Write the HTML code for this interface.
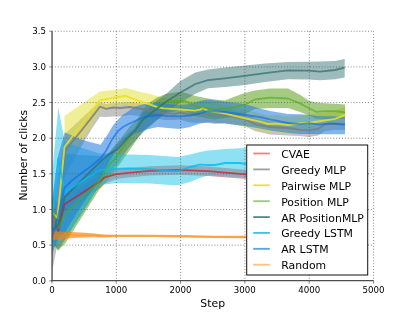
<!DOCTYPE html>
<html><head><meta charset="utf-8"><title>Number of clicks vs Step</title>
<style>html,body{margin:0;padding:0;background:#fff}svg{display:block;will-change:transform}text{font-family:"DejaVu Sans","Liberation Sans",sans-serif;fill:#000}</style></head><body>
<svg width="415" height="312" viewBox="0 0 415 312">
<rect width="415" height="312" fill="#fff"/>
<defs><clipPath id="ax"><rect x="51.875" y="31.2" width="321.625" height="249.60000000000002"/></clipPath></defs>
<g clip-path="url(#ax)">
<polygon points="52,201 58.1,222 64.5,196 100,175 104,172 115.4,169.3 128,168 150,166.2 180,165.3 208,166.6 246,169.7 246,179 208,175.9 180,174.7 150,175.5 128,177.6 115.4,179.2 104,184 100,188 64.5,212 58.1,239 52,217" fill="#e41a1c" fill-opacity="0.45"/>
<polygon points="52,215 58.3,175 65.3,133.5 80.4,119.4 91,109.5 99.9,102.5 106,104 113,103 120,103 130,102 140,103 150,105 165,107 175,108 180,107 190,108 208,108 215,109 225,108.5 244.8,113 255,118 270,121 288,122 300,124 309,124 318,123 325,119 335,118 345,118 345,130 335,130 325,131 318,135.5 309,137 300,136 288,135.5 270,134.5 255,131 244.8,126.2 225,123.2 215,124 208,123 190,122.5 180,119.5 175,120 165,120 150,117 140,116 130,115 120,116.5 113,116.5 106,117 99.9,116.7 91,130 80.4,148.3 65.3,175 58.3,240 52,272" fill="#888888" fill-opacity="0.5"/>
<polygon points="64.5,116 91,97.5 96.2,94 99.8,91.5 106,90.7 113,90 120,89 125.6,88 132,89.5 138.6,91.5 150,94 157,96 163.6,98 180,100.5 195,101.5 200,101 203,100 208,102 225,105 244.8,110 260,113 268,115.5 275,115 288,116.5 300,115 309,114 320,113 335,110.5 345,107 345,123 335,127 320,129.5 309,131 300,132 288,133.5 275,132 268,132.5 260,130 244.8,127 225,122 208,119.3 203,117.5 200,118.5 195,119 180,118 163.6,116.5 157,115 150,112.5 138.6,109 132,106.5 125.6,104.3 120,105.5 113,107 106,108.5 99.8,110 96.2,116.5 91,127 64.5,166" fill="#e2e030" fill-opacity="0.5"/>
<polygon points="52,195 58.1,205 65.2,195 99,166 106,156 109,152.5 115.2,145 121,138 124.9,133 128.9,127.5 136,120.5 143,110 146,105 157,97.6 166.5,93.7 180,91.8 185.8,93 195.4,96 208,98.5 215,99.5 225,100.5 235,96.5 244.8,93 255,90.5 270,88.5 288,88.5 300,94.7 309,100.8 316,102.5 325,103.3 335,103.8 345,104.5 345,118.5 335,119 325,119 316,118.5 309,115.4 300,112 288,108 270,108 255,109 244.8,114 235,117 225,118 215,119.5 208,118.5 195.4,116 185.8,111 180,110 166.5,113 157,120 146,128.5 143,131.3 136,141 128.9,151.2 124.9,157 121,162.5 115.2,170.5 109,178.5 106,182.5 99,190 65.2,243.5 58.1,250.8 52,243" fill="#5aa01a" fill-opacity="0.55"/>
<polygon points="52,215 58.3,200 64.7,154 100,156 105.6,154.5 110.5,152 118.2,143.5 122,139.5 127.8,133.8 134.8,128 142.6,113 157,100.5 166.5,93.5 180,81.2 195.4,72.5 208,69.6 225,67.5 244.8,65.4 265,63.5 288,62 309,61.8 320,61.5 335,61 344.7,58.9 344.7,77.5 335,79.3 320,80.3 309,79.5 288,79.3 265,82 244.8,85 225,87 208,88.2 195.4,93.7 180,103 166.5,112 157,120 142.6,133 134.8,141 127.8,149 122,157 118.2,163 110.5,172 105.6,178 100,185 64.7,240 58.3,249.5 52,242" fill="#3c7878" fill-opacity="0.5"/>
<polygon points="52,175 58.3,107.7 64.9,142.5 100,153.5 115.4,153.5 128,154.5 150,155 170,156.5 178,157 190,154.5 200,152 208,150.6 215,150 225,149 240,148.2 246,148 246,177.6 240,177.3 225,176.5 215,176 208,175.6 200,178 190,182 178,185.3 170,185 150,183.5 128,183 115.4,183.3 100,185 64.9,239.5 58.3,241 52,250" fill="#1ec3e6" fill-opacity="0.5"/>
<polygon points="52,200 54.3,184 58.3,155 64.7,132.5 72.5,135.7 81.7,139.8 90,142.1 100.5,144.8 105.9,137 108.5,133 110.2,130 113.3,125 118.2,119.5 123,114.5 128,111.5 134,107 140,105 144.3,104 157.8,103 167.5,104 180,105 190,104 200,101 208,99.5 225,101.4 244.8,104 260,108.5 270,111 288,114 300,114.3 309,115 320,116.3 330,116.3 345,116.5 345,134.3 330,134.3 320,134.3 309,134 300,134 288,133 270,130.5 260,128.5 244.8,126 225,123.5 208,122.2 200,123.5 190,127 180,129 167.5,128 157.8,127 144.3,130 140,132 134,134 128,138 123,142 118.2,147 113.3,155 110.2,160 108.5,163 105.9,168 100.5,178 90,193.5 81.7,205.6 72.5,220 64.7,233 58.3,238 54.3,248 52,255.5" fill="#1f7ae0" fill-opacity="0.55"/>
<polygon points="52,231.6 58.3,231.6 64.7,231.8 72,232.1 92,233.2 104,234.4 116,234.7 150,234.7 180,235 215,235.7 246,235.8 246,238.2 215,238.1 180,237.4 150,237.1 116,237.1 104,237.5 92,237.2 72,237.9 64.7,239 58.3,239.8 52,239.8" fill="#ff8105" fill-opacity="0.66"/>
</g>
<g stroke="#555" stroke-width="0.75" stroke-dasharray="0.95 1.95" fill="none" transform="translate(0.1,0.05)">
<line x1="116.2" y1="31.2" x2="116.2" y2="280.8"/>
<line x1="180.5" y1="31.2" x2="180.5" y2="280.8"/>
<line x1="244.8" y1="31.2" x2="244.8" y2="280.8"/>
<line x1="309.2" y1="31.2" x2="309.2" y2="280.8"/>
<line x1="373.5" y1="31.2" x2="373.5" y2="280.8"/>
<line x1="51.875" y1="245.1" x2="373.5" y2="245.1"/>
<line x1="51.875" y1="209.5" x2="373.5" y2="209.5"/>
<line x1="51.875" y1="173.8" x2="373.5" y2="173.8"/>
<line x1="51.875" y1="138.2" x2="373.5" y2="138.2"/>
<line x1="51.875" y1="102.5" x2="373.5" y2="102.5"/>
<line x1="51.875" y1="66.9" x2="373.5" y2="66.9"/>
<line x1="51.875" y1="31.2" x2="373.5" y2="31.2"/>
</g>
<g clip-path="url(#ax)" fill="none" stroke-linejoin="round">
<polyline points="52,209 58.1,230.8 64.5,204.3 100,181.5 104,177.6 115.4,174.3 128,172.8 150,170.8 180,170 208,171.2 246,174.3" stroke="#d01828" stroke-opacity="0.7" stroke-width="1.8"/>
<polyline points="52,228 58.3,205 65.3,150.7 80.4,131.8 91,118.4 99.9,106.7 106,108.8 113,107.5 120,108 130,107 140,108.5 150,110.6 165,113.1 175,113.9 180,112.5 190,114.5 208,113.8 215,115.8 225,114.5 244.8,119.3 255,124.1 270,127 288,128 300,129.9 309,130.4 318,128.9 325,124.7 335,123.5 345,124.1" stroke="#7c7c7c" stroke-opacity="0.85" stroke-width="1.8"/>
<polyline points="52,212 57.4,218.2 64.5,147 91,112 96.2,105.2 99.8,100.4 106,99.3 113,98 120,96.8 125.6,95.8 132,98.3 138.6,100.8 150,104.5 157,107 163.6,108.4 180,109.5 195,110.6 200,109.6 203,108.1 208,110.8 225,113.5 244.8,118.3 260,121.6 268,124 275,123.5 288,125 300,123.5 309,122.7 320,121.2 335,118.9 345,115" stroke="#ebe218" stroke-opacity="0.85" stroke-width="1.9"/>
<polyline points="52,207 58.1,228.4 65.2,213.5 99,181.5 106,169.8 109,165 115.2,158.5 121,150 124.9,144.4 128.9,138 136,129.5 143,120 146,117 157,108.2 166.5,102.4 180,100.5 185.8,101.4 195.4,106.2 208,108.6 215,109.7 225,108.2 235,107.2 244.8,104.7 255,99.5 270,97.6 288,98.5 300,103.4 309,108.2 316,111.8 325,111.2 335,111.2 345,112.5" stroke="#53aa11" stroke-opacity="0.62" stroke-width="1.8"/>
<polyline points="52,230 58.3,225 64.7,197 100,162 105.6,156.9 110.5,153.5 118.2,148.7 122,144.4 127.8,137.6 134.8,130.9 142.6,120 157,108.5 166.5,101.5 180,92.8 195.4,84 208,80.2 225,78.3 244.8,75.8 265,73.1 288,70.3 309,70.6 320,71.6 335,70 344.7,67.7" stroke="#2d6e6e" stroke-opacity="0.72" stroke-width="1.8"/>
<polyline points="52,220 58.3,158 64.9,192 100,169.9 115.4,168.9 128,168.3 150,169.2 170,170.8 178,171 190,167 200,164.7 208,165 215,165 225,163 240,163 246,164" stroke="#00bcf0" stroke-opacity="0.8" stroke-width="1.8"/>
<polyline points="52,238 54.3,230 58.3,215 64.7,187.5 72.5,180 81.7,173 90,167 100.5,158.5 105.9,151 108.5,146.3 110.2,142.8 113.3,137.6 118.2,130.9 123,127 128,124.2 134,121.5 140,118.8 144.3,117 157.8,114.8 167.5,116 180,116.3 190,115.5 200,113.5 208,111 225,112 244.8,115 260,117 270,119.3 288,123 300,124.1 309,123.1 320,124.7 330,123.5 345,124.7" stroke="#0a6ae6" stroke-opacity="0.62" stroke-width="1.8"/>
<polyline points="52,235.7 58.3,235.7 64.7,234.5 72,235 92,235.2 104,236 116,235.9 150,235.9 180,236.2 215,236.9 246,237" stroke="#ff8105" stroke-opacity="0.35" stroke-width="1.3"/>
</g>
<g stroke="#4d4d4d" stroke-width="1.35" fill="none"><line x1="52.05" y1="31.2" x2="52.05" y2="281.2"/><line x1="51.4" y1="280.55" x2="373.5" y2="280.55"/></g>
<g stroke="#4d4d4d" stroke-width="0.7">
<line x1="51.9" y1="280.55" x2="51.9" y2="283.6"/>
<line x1="116.2" y1="280.55" x2="116.2" y2="283.6"/>
<line x1="180.5" y1="280.55" x2="180.5" y2="283.6"/>
<line x1="244.8" y1="280.55" x2="244.8" y2="283.6"/>
<line x1="309.2" y1="280.55" x2="309.2" y2="283.6"/>
<line x1="373.5" y1="280.55" x2="373.5" y2="283.6"/>
<line x1="49.3" y1="280.8" x2="52" y2="280.8"/>
<line x1="49.3" y1="245.1" x2="52" y2="245.1"/>
<line x1="49.3" y1="209.5" x2="52" y2="209.5"/>
<line x1="49.3" y1="173.8" x2="52" y2="173.8"/>
<line x1="49.3" y1="138.2" x2="52" y2="138.2"/>
<line x1="49.3" y1="102.5" x2="52" y2="102.5"/>
<line x1="49.3" y1="66.9" x2="52" y2="66.9"/>
<line x1="49.3" y1="31.2" x2="52" y2="31.2"/>
</g>
<g font-size="8.65">
<text x="51.9" y="293.3" text-anchor="middle">0</text>
<text x="116.2" y="293.3" text-anchor="middle">1000</text>
<text x="180.5" y="293.3" text-anchor="middle">2000</text>
<text x="244.8" y="293.3" text-anchor="middle">3000</text>
<text x="309.2" y="293.3" text-anchor="middle">4000</text>
<text x="373.5" y="293.3" text-anchor="middle">5000</text>
<text x="46" y="284" text-anchor="end">0.0</text>
<text x="46" y="248.3" text-anchor="end">0.5</text>
<text x="46" y="212.7" text-anchor="end">1.0</text>
<text x="46" y="177" text-anchor="end">1.5</text>
<text x="46" y="141.4" text-anchor="end">2.0</text>
<text x="46" y="105.7" text-anchor="end">2.5</text>
<text x="46" y="70.1" text-anchor="end">3.0</text>
<text x="46" y="34.4" text-anchor="end">3.5</text>
</g>
<text x="212.7" y="307" font-size="10.85" text-anchor="middle">Step</text>
<text transform="translate(27.2,155.2) rotate(-90)" font-size="10.85" text-anchor="middle">Number of clicks</text>
<rect x="246.7" y="145" width="121" height="130" fill="#fff" stroke="#111" stroke-width="1"/>
<line x1="253.2" y1="153.5" x2="269.8" y2="153.5" stroke="#f08088" stroke-width="1.8"/>
<text x="281.2" y="158" font-size="10.87">CVAE</text>
<line x1="253.2" y1="169.4" x2="269.8" y2="169.4" stroke="#a0a0a0" stroke-width="1.8"/>
<text x="281.2" y="173.9" font-size="10.87">Greedy MLP</text>
<line x1="253.2" y1="185.3" x2="269.8" y2="185.3" stroke="#e8e040" stroke-width="1.8"/>
<text x="281.2" y="189.8" font-size="10.87">Pairwise MLP</text>
<line x1="253.2" y1="201.2" x2="269.8" y2="201.2" stroke="#98cc70" stroke-width="1.8"/>
<text x="281.2" y="205.7" font-size="10.87">Position MLP</text>
<line x1="253.2" y1="217.1" x2="269.8" y2="217.1" stroke="#508888" stroke-width="1.8"/>
<text x="281.2" y="221.6" font-size="10.87">AR PositionMLP</text>
<line x1="253.2" y1="232.9" x2="269.8" y2="232.9" stroke="#30c8e8" stroke-width="1.8"/>
<text x="281.2" y="237.4" font-size="10.87">Greedy LSTM</text>
<line x1="253.2" y1="248.8" x2="269.8" y2="248.8" stroke="#58a0f0" stroke-width="1.8"/>
<text x="281.2" y="253.3" font-size="10.87">AR LSTM</text>
<line x1="253.2" y1="264.7" x2="269.8" y2="264.7" stroke="#ffc080" stroke-width="1.8"/>
<text x="281.2" y="269.2" font-size="10.87">Random</text>
</svg></body></html>
